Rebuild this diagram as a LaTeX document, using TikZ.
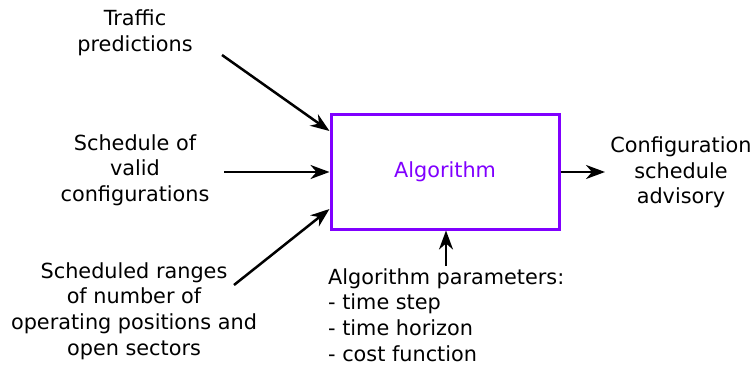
\documentclass[tikz,border=0pt]{standalone}
\usepackage{fontspec}
\setmainfont{DejaVu Sans}
\usepackage{tikz}
\usetikzlibrary{arrows.meta}
\definecolor{algopurple}{RGB}{128,0,255}

\begin{document}
\begin{tikzpicture}[x=1pt,y=-1pt]
\tikzstyle{every node}=[font=\fontsize{20.8}{25.7}\selectfont,inner sep=0pt];
\tikzstyle{label}=[align=center];
\tikzstyle{arr}=[line width=2.5pt,-{Stealth[length=19pt,width=14pt,inset=6pt]}];
\useasboundingbox (0,0) rectangle (751,364);
\node[draw=algopurple,line width=3pt,minimum width=228pt,minimum height=115pt,text=algopurple] (algo) at (445,171.5) {Algorithm};
\node[label] (traffic) at (135,33) {Traffic\\predictions};
\node[label] (valid) at (135,170) {Schedule of\\valid\\configurations};
\node[label] (ranges) at (134,311) {Scheduled ranges\\of number of\\operating positions and\\open sectors};
\node[label] (advisory) at (681,172.5) {Configuration\\schedule\\advisory};
\node[align=left,anchor=west] (params) at (328,315) {Algorithm parameters:\\- time step\\- time horizon\\- cost function};
% connectors
\coordinate (t1) at (222,55);
\coordinate (t2) at (224,172);
\coordinate (t3) at (234,285);
\coordinate (t4) at (446,266);
\coordinate (out) at (605,172);
\draw[arr] (t1) -- (algo.west |- 0,131);
\draw[arr] (t2) -- (algo.west |- t2);
\draw[arr] (t3) -- (algo.west |- 0,209);
\draw[arr] (t4) -- (algo.south -| t4);
\draw[arr] (algo.east |- out) -- (out);
\end{tikzpicture}
\end{document}
